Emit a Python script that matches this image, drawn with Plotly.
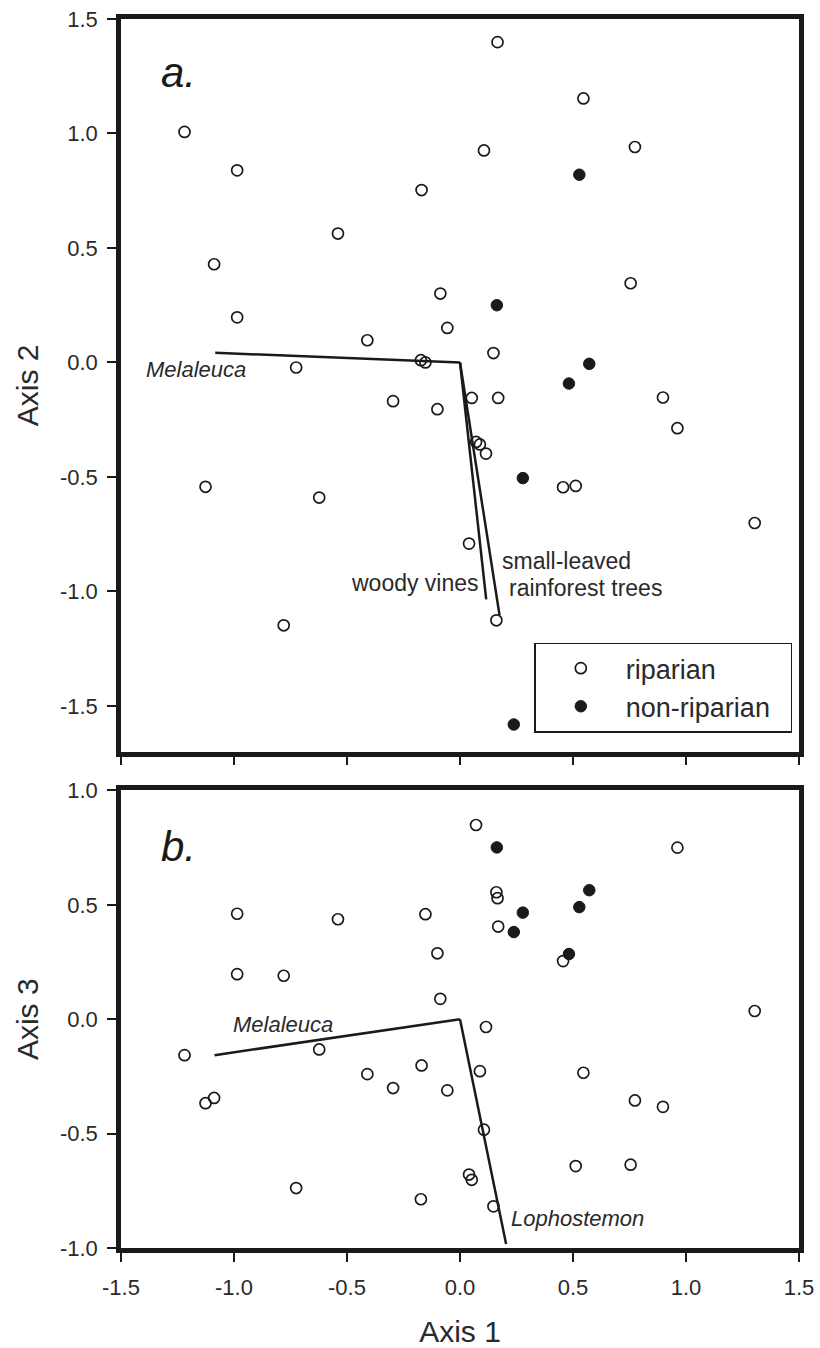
import plotly.graph_objects as go

# ---------------- data ----------------
# riparian sites: scores on ordination axes 1, 2, 3
rip_axis1 = [-1.219, -1.126, -1.088, -0.986, -0.986, -0.780, -0.725, -0.623, -0.540, -0.410,
             -0.296, -0.173, -0.170, -0.153, -0.100, -0.087, -0.056, 0.040, 0.052, 0.071,
             0.088, 0.106, 0.115, 0.148, 0.161, 0.166, 0.169, 0.456, 0.512, 0.546,
             0.755, 0.774, 0.898, 0.962, 1.304]
rip_axis2 = [1.007, -0.543, 0.429, 0.839, 0.197, -1.148, -0.022, -0.590, 0.563, 0.097,
             -0.169, 0.010, 0.753, 0.000, -0.204, 0.301, 0.151, -0.791, -0.155, -0.347,
             -0.358, 0.926, -0.398, 0.041, -1.126, 1.399, -0.155, -0.545, -0.539, 1.153,
             0.346, 0.941, -0.153, -0.287, -0.701]
rip_axis3 = [-0.157, -0.367, -0.344, 0.461, 0.197, 0.190, -0.738, -0.132, 0.437, -0.240,
             -0.301, -0.787, -0.202, 0.459, 0.288, 0.089, -0.311, -0.679, -0.702, 0.849,
             -0.227, -0.483, -0.034, -0.818, 0.555, 0.529, 0.405, 0.254, -0.642, -0.234,
             -0.636, -0.355, -0.383, 0.750, 0.036]

# non-riparian sites
non_axis1 = [0.163, 0.238, 0.278, 0.482, 0.528, 0.572]
non_axis2 = [0.250, -1.581, -0.505, -0.092, 0.820, -0.006]
non_axis3 = [0.751, 0.381, 0.466, 0.285, 0.490, 0.564]

# biplot vectors (end points; all start at the origin)
vec_a_names = ["Melaleuca", "woody vines", "small-leaved rainforest trees"]
vec_a_x = [-1.083, 0.116, 0.175]
vec_a_y = [0.042, -1.035, -1.104]
vec_b_names = ["Melaleuca", "Lophostemon"]
vec_b_x = [-1.086, 0.204]
vec_b_y = [-0.157, -0.982]

tick_vals_x = [-1.5, -1.0, -0.5, 0.0, 0.5, 1.0, 1.5]
tick_text_x = ["-1.5", "-1.0", "-0.5", "0.0", "0.5", "1.0", "1.5"]
tick_vals_ya = [-1.5, -1.0, -0.5, 0.0, 0.5, 1.0, 1.5]
tick_text_ya = ["-1.5", "-1.0", "-0.5", "0.0", "0.5", "1.0", "1.5"]
tick_vals_yb = [-1.0, -0.5, 0.0, 0.5, 1.0]
tick_text_yb = ["-1.0", "-0.5", "0.0", "0.5", "1.0"]

# ---------------- figure ----------------
FONT = "Liberation Sans, Arial, sans-serif"
INK = "#1a1a1a"
TXT = "#2a2a2a"
NB = "\u00a0"
fig = go.Figure()

# vectors panel a
for vx, vy in zip(vec_a_x, vec_a_y):
    fig.add_trace(go.Scatter(x=[0, vx], y=[0, vy], mode="lines",
                             line=dict(color=INK, width=2.5), showlegend=False,
                             hoverinfo="skip", xaxis="x", yaxis="y"))
# vectors panel b
for vx, vy in zip(vec_b_x, vec_b_y):
    fig.add_trace(go.Scatter(x=[0, vx], y=[0, vy], mode="lines",
                             line=dict(color=INK, width=2.5), showlegend=False,
                             hoverinfo="skip", xaxis="x2", yaxis="y2"))

open_marker = dict(symbol="circle-open", size=11, color=INK, line=dict(width=1.7, color=INK))
fill_marker = dict(symbol="circle", size=11.5, color=INK, line=dict(width=1, color=INK))

fig.add_trace(go.Scatter(x=rip_axis1, y=rip_axis2, mode="markers", name="riparian" + NB * 2,
                         marker=open_marker, legendgroup="rip", xaxis="x", yaxis="y"))
fig.add_trace(go.Scatter(x=non_axis1, y=non_axis2, mode="markers", name="non-riparian" + NB * 2,
                         marker=fill_marker, legendgroup="non", xaxis="x", yaxis="y"))
fig.add_trace(go.Scatter(x=rip_axis1, y=rip_axis3, mode="markers", name="riparian",
                         marker=open_marker, legendgroup="rip", showlegend=False,
                         xaxis="x2", yaxis="y2"))
fig.add_trace(go.Scatter(x=non_axis1, y=non_axis3, mode="markers", name="non-riparian",
                         marker=fill_marker, legendgroup="non", showlegend=False,
                         xaxis="x2", yaxis="y2"))

axis_common = dict(showline=True, linewidth=4.5, linecolor=INK, mirror=True,
                   showgrid=False, zeroline=False, ticks="outside", ticklen=9,
                   tickwidth=2, tickcolor=INK, automargin=False,
                   tickfont=dict(family=FONT, size=22, color=TXT))

fig.update_layout(
    width=820, height=1348,
    margin=dict(l=121, r=21, t=19, b=100),
    paper_bgcolor="white", plot_bgcolor="white",
    font=dict(family=FONT, color=INK),
    xaxis=dict(axis_common, domain=[0, 1], range=[-1.5, 1.5], anchor="y",
               tickvals=tick_vals_x, ticktext=tick_text_x, showticklabels=False),
    yaxis=dict(axis_common, domain=[0.4038, 1.0], range=[-1.7, 1.5], anchor="x",
               tickvals=tick_vals_ya, ticktext=tick_text_ya, ticklabelstandoff=5,
               title=dict(text="Axis 2", font=dict(family=FONT, size=30, color=TXT),
                          standoff=14)),
    xaxis2=dict(axis_common, domain=[0, 1], range=[-1.5, 1.5], anchor="y2",
                tickvals=tick_vals_x, ticktext=tick_text_x, ticklabelstandoff=7,
                title=dict(text="Axis 1", font=dict(family=FONT, size=30, color=TXT),
                           standoff=28)),
    yaxis2=dict(axis_common, domain=[0.0, 0.3723], range=[-1.0, 1.0], anchor="x2",
                tickvals=tick_vals_yb, ticktext=tick_text_yb, ticklabelstandoff=5,
                title=dict(text="Axis 3", font=dict(family=FONT, size=30, color=TXT),
                           standoff=14)),
    legend=dict(x=0.6096, y=0.4926, xanchor="left", yanchor="top",
                bgcolor="white", bordercolor=INK, borderwidth=1.5,
                font=dict(family=FONT, size=27, color=TXT),
                itemwidth=80, tracegroupgap=0),
    showlegend=True,
)

ann_font = dict(family=FONT, size=23, color=TXT)
ital_font = dict(family=FONT, size=22, color=TXT, style="italic")
annotations = [
    dict(x=-1.33, y=1.265, xref="x", yref="y", text="a.", showarrow=False,
         xanchor="left", yanchor="middle",
         font=dict(family=FONT, size=42, color=INK, style="italic")),
    dict(x=-1.33, y=0.755, xref="x2", yref="y2", text="b.", showarrow=False,
         xanchor="left", yanchor="middle",
         font=dict(family=FONT, size=42, color=INK, style="italic")),
    dict(x=-1.168, y=-0.03, xref="x", yref="y", text=vec_a_names[0], showarrow=False,
         xanchor="center", yanchor="middle", font=ital_font),
    dict(x=0.094, y=-0.962, xref="x", yref="y", text=vec_a_names[1], showarrow=False,
         xanchor="right", yanchor="middle", font=ann_font),
    dict(x=0.175, y=-0.869, xref="x", yref="y", text="small-leaved", showarrow=False,
         xanchor="left", yanchor="middle", font=ann_font),
    dict(x=0.206, y=-0.986, xref="x", yref="y", text="rainforest trees", showarrow=False,
         xanchor="left", yanchor="middle", font=ann_font),
    dict(x=-0.784, y=-0.025, xref="x2", yref="y2", text=vec_b_names[0], showarrow=False,
         xanchor="center", yanchor="middle", font=ital_font),
    dict(x=0.216, y=-0.869, xref="x2", yref="y2", text=vec_b_names[1], showarrow=False,
         xanchor="left", yanchor="middle", font=ital_font),
]
fig.update_layout(annotations=annotations)

fig.write_html("out.html")
